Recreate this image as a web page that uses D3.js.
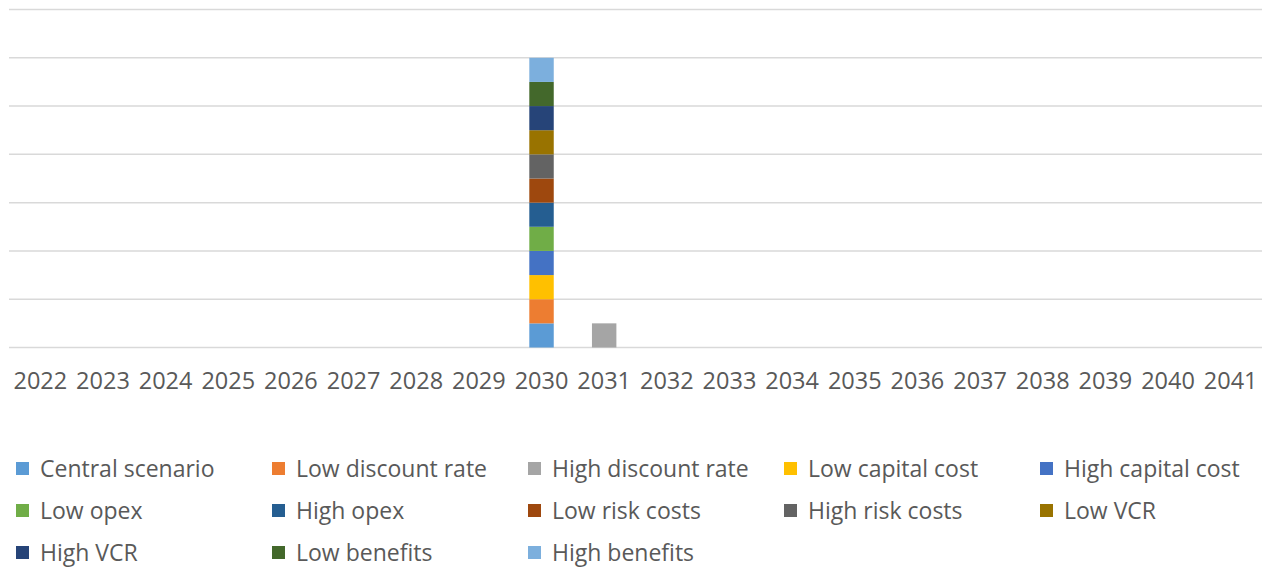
<!DOCTYPE html>
<meta charset="utf-8">
<html lang="en">
<head>
  <title>Scenario chart</title>
  <script src="https://d3js.org/d3.v7.min.js"></script>
  <style>
    body { margin: 0; background: #fff; }
    text { font-family: "Open Sans", sans-serif; fill: #595959; }
  </style>
</head>
<body>
<script>
// years on the x axis
var years = d3.range(2022, 2042).map(String);

// series names, in stacking order
var seriesNames = ["Central scenario", "Low discount rate", "High discount rate", "Low capital cost",
  "High capital cost", "Low opex", "High opex", "Low risk costs", "High risk costs", "Low VCR",
  "High VCR", "Low benefits", "High benefits"];

var seriesColors = ["#5B9BD5", "#ED7D31", "#A5A5A5", "#FFC000", "#4472C4", "#70AD47", "#255E91",
  "#9E480E", "#636363", "#997300", "#264478", "#43682B", "#7CAFDD"];

// value of each series per year (only non-zero entries listed)
var central       = {"2030": 1};
var lowDiscount   = {"2030": 1};
var highDiscount  = {"2031": 1};
var lowCapital    = {"2030": 1};
var highCapital   = {"2030": 1};
var lowOpex       = {"2030": 1};
var highOpex      = {"2030": 1};
var lowRisk       = {"2030": 1};
var highRisk      = {"2030": 1};
var lowVCR        = {"2030": 1};
var highVCR       = {"2030": 1};
var lowBenefits   = {"2030": 1};
var highBenefits  = {"2030": 1};

var seriesValues = [central, lowDiscount, highDiscount, lowCapital, highCapital, lowOpex, highOpex,
  lowRisk, highRisk, lowVCR, highVCR, lowBenefits, highBenefits];

var yTicks = [0, 2, 4, 6, 8, 10, 12, 14];

var width = 1270, height = 567;

// table for d3.stack
var table = years.map(function(y) {
  var row = {year: y};
  seriesNames.forEach(function(n, i) { row[n] = seriesValues[i][y] || 0; });
  return row;
});

var stacked = d3.stack().keys(seriesNames)(table);

var x = d3.scaleBand()
    .domain(years)
    .range([9, 1262])
    .paddingInner(0.61)
    .paddingOuter(0.305);

var y = d3.scaleLinear()
    .domain([0, 14])
    .range([347.5, 9.5]);

var svg = d3.select("body").append("svg")
    .attr("width", width)
    .attr("height", height);

// gridlines
svg.append("g")
  .selectAll("line")
    .data(yTicks)
  .enter().append("line")
    .attr("x1", 9)
    .attr("x2", 1262)
    .attr("y1", function(d) { return y(d); })
    .attr("y2", function(d) { return y(d); })
    .style("stroke", "#D9D9D9")
    .style("stroke-width", 1.5);

// bars
svg.append("g")
  .selectAll("g")
    .data(stacked)
  .enter().append("g")
    .style("fill", function(d, i) { return seriesColors[i]; })
  .selectAll("rect")
    .data(function(d) { return d.filter(function(p) { return p[1] > p[0]; }); })
  .enter().append("rect")
    .attr("x", function(d) { return x(d.data.year); })
    .attr("width", x.bandwidth())
    .attr("y", function(d) { return y(d[1]); })
    .attr("height", function(d) { return y(d[0]) - y(d[1]); });

// x axis labels
var xAxis = d3.axisBottom(x).tickSize(0).tickPadding(0);
var gx = svg.append("g")
    .attr("transform", "translate(0,381)")
    .call(xAxis);
gx.select(".domain").remove();
gx.selectAll("text")
    .attr("dy", "0.35em")
    .style("font-size", "23.5px")
    .style("font-family", "'Open Sans', sans-serif")
    .style("fill", "#595959");

// legend
var legend = svg.append("g")
  .selectAll("g")
    .data(seriesNames)
  .enter().append("g")
    .attr("transform", function(d, i) {
      return "translate(" + (16 + (i % 5) * 256) + "," + (468.5 + Math.floor(i / 5) * 42) + ")";
    });

legend.append("rect")
    .attr("x", 0)
    .attr("y", -6.5)
    .attr("width", 13)
    .attr("height", 13)
    .style("fill", function(d, i) { return seriesColors[i]; });

legend.append("text")
    .attr("x", 24)
    .attr("y", 0)
    .attr("dy", "0.35em")
    .style("font-size", "23px")
    .text(function(d) { return d; });
</script>
</body>
</html>
